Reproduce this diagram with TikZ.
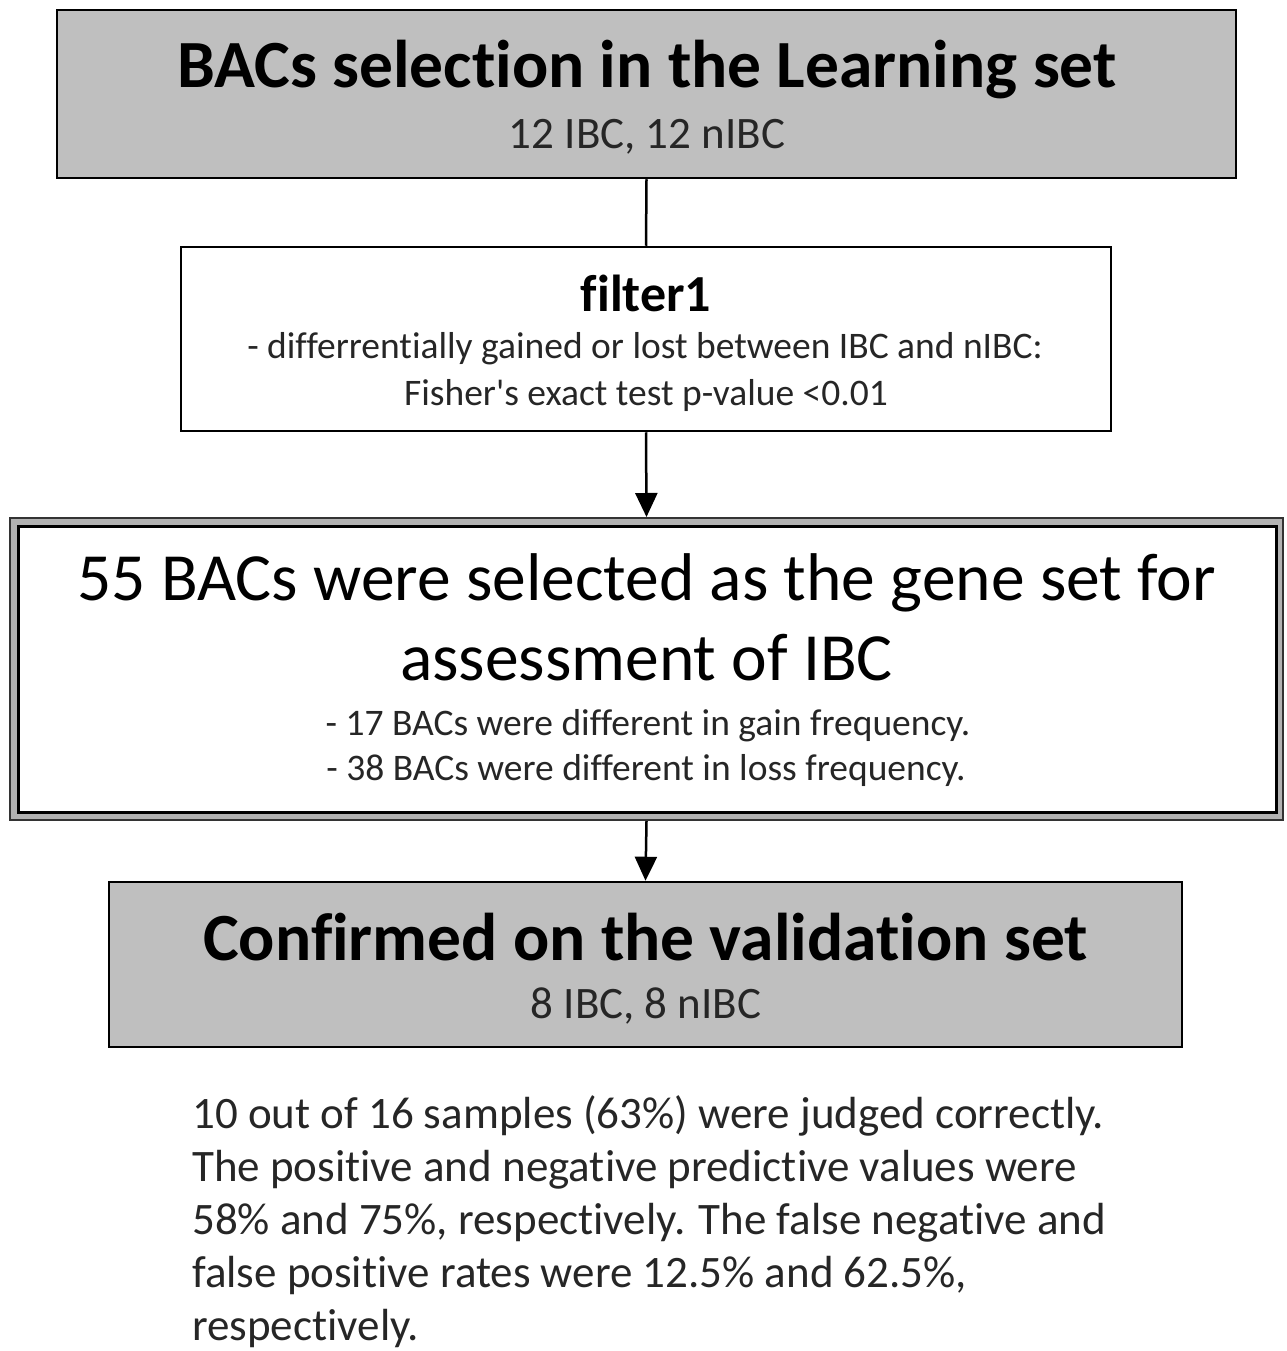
\documentclass[tikz,border=0pt]{standalone}
\usepackage{fontspec}
\setmainfont{Carlito}[Ligatures={NoCommon,TeXOff}]
\usetikzlibrary{arrows.meta}
\begin{document}
\begin{tikzpicture}[x=1pt,y=-1pt,
  graybox/.style={draw=black,line width=2.5pt,fill=gray!50,inner sep=0pt},
  whitebox/.style={draw=black,line width=2.5pt,fill=white,inner sep=0pt},
  headb/.style={font=\fontsize{67.5}{80}\selectfont\bfseries,text=black,inner sep=0pt},
  headr/.style={font=\fontsize{67.5}{80}\selectfont,text=black,inner sep=0pt},
  subtxt/.style={font=\fontsize{45}{54}\selectfont,text=black!85,inner sep=0pt},
  filtertitle/.style={font=\fontsize{52}{60}\selectfont\bfseries,text=black,inner sep=0pt},
  smalltxt/.style={font=\fontsize{37.5}{45}\selectfont,text=black!85,inner sep=0pt},
  link/.style={line width=2.5pt,draw=black},
  arr/.style={link,-{Triangle[width=22pt,length=24pt]}}
]
\useasboundingbox (0,0) rectangle (1286,1351);

% top box
\node[graybox,minimum width=1179pt,minimum height=168pt] (top) at (646.5,94) {};
\node[headb,anchor=base] (toptitle) at (647,88) {BACs selection in the Learning set};
\node[subtxt,anchor=base] (topsub) at (647,149) {12 IBC, 12 nIBC};

% filter box
\node[whitebox,minimum width=930pt,minimum height=184pt] (filter) at (646,339) {};
\node[filtertitle,anchor=base] (filtername) at (646,311) {filter1};
\node[smalltxt,anchor=base] (filterl1) at (645,358) {- differrentially gained or lost between IBC and nIBC:};
\node[smalltxt,anchor=base] (filterl2) at (646,405) {Fisher's exact test p-value <0.01};

% gene set double box
\node[draw=black!80,line width=2pt,fill=gray!60,minimum width=1273pt,minimum height=302pt,inner sep=0pt] (geneout) at (646.5,669) {};
\node[draw=black,line width=3pt,fill=white,minimum width=1258pt,minimum height=286pt,inner sep=0pt] (gene) at (647,669) {};
\node[headr,anchor=base] (genel1) at (646.5,600) {55 BACs were selected as the gene set for};
\node[headr,anchor=base] (genel2) at (646.5,680) {assessment of IBC};
\node[smalltxt,anchor=base] (genel3) at (648,735) {- 17 BACs were different in gain frequency.};
\node[smalltxt,anchor=base] (genel4) at (646,780) {- 38 BACs were different in loss frequency.};

% confirmation box
\node[graybox,minimum width=1073pt,minimum height=165pt] (confirm) at (645.5,964.5) {};
\node[headb,anchor=base] (conftitle) at (645.5,960) {Confirmed on the validation set};
\node[subtxt,anchor=base] (confsub) at (646,1018) {8 IBC, 8 nIBC};

% result paragraph (base anchor = baseline of last line)
\node[font=\fontsize{45}{53}\selectfont,text=black!85,inner sep=0pt,align=left,anchor=base west] (result) at (192,1340)
  {10 out of 16 samples (63\%) were judged correctly.\\
   The positive and negative predictive values were\\
   58\% and 75\%, respectively. The false negative and\\
   false positive rates were 12.5\% and 62.5\%,\\
   respectively.};

% connectors
\draw[link] (top.south) -- (filter.north);
\draw[arr] (filter.south) -- (geneout.north);
\draw[arr] (geneout.south) -- (confirm.north);
\end{tikzpicture}
\end{document}
